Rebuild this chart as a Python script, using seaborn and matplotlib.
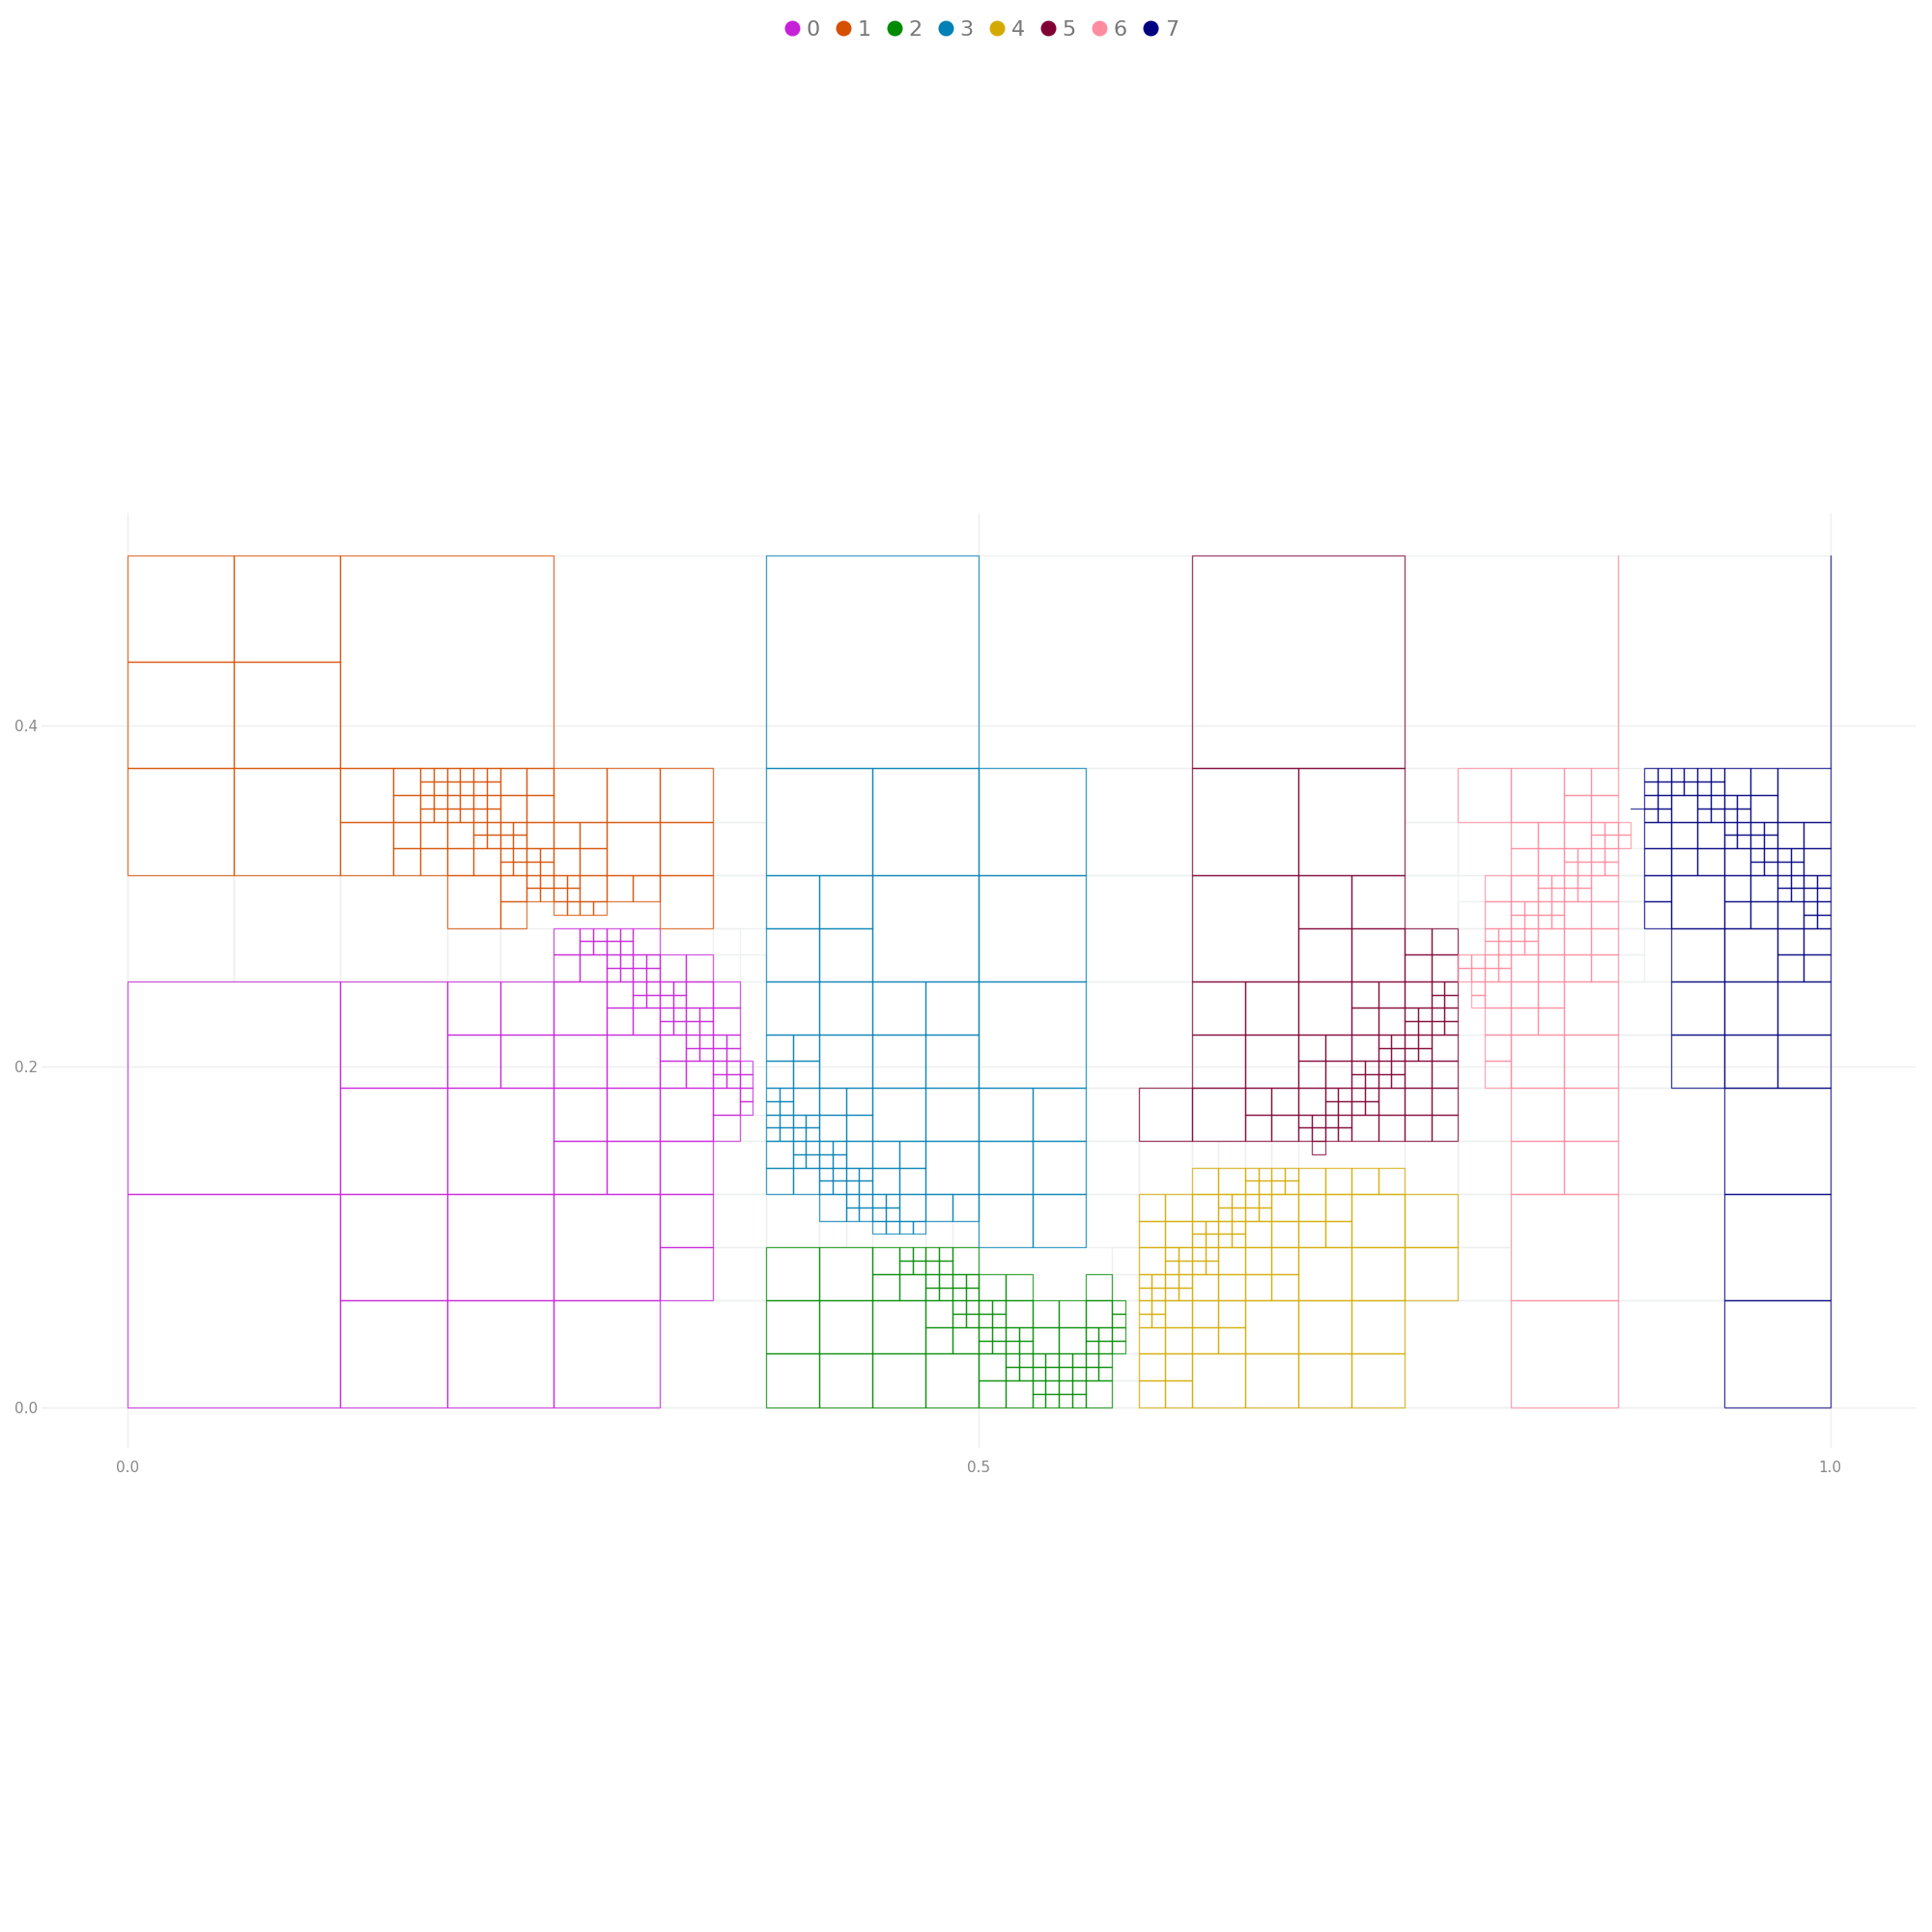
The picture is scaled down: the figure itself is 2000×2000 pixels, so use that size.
import pandas as pd
import seaborn as sns
import matplotlib.pyplot as plt
from matplotlib.patches import Rectangle
from matplotlib.lines import Line2D

# cells are squares (i, j, size) on a 1/128 grid
STEP = 1 / 128

labels = ["0", "1", "2", "3", "4", "5", "6", "7"]
colors = ["#c720d9", "#d64f00", "#008b00", "#0080b4",
          "#d4aa00", "#800033", "#ff8c9f", "#000080"]

cells_0 = [
    (0, 0, 16), (0, 16, 16),
    (16, 24, 8), (16, 16, 8), (24, 16, 8), (16, 8, 8), (24, 8, 8), (16, 0, 8), (24, 0, 8),
    (32, 0, 8), (32, 8, 8),
    (24, 28, 4), (28, 28, 4), (24, 24, 4), (28, 24, 4), (40, 12, 4), (40, 8, 4), (32, 16, 4),
    (36, 16, 4), (40, 16, 4), (32, 20, 4), (36, 20, 4), (40, 20, 4), (32, 24, 4), (36, 24, 4),
    (32, 28, 4),
    (44, 20, 2), (44, 22, 2), (40, 26, 2), (40, 24, 2), (42, 24, 2), (36, 30, 2), (36, 28, 2),
    (42, 30, 2), (44, 30, 2), (38, 28, 2), (44, 28, 2), (32, 32, 2), (34, 32, 2), (38, 34, 2),
    (40, 32, 2), (42, 32, 2), (32, 34, 2),
    (46, 22, 1), (46, 23, 1), (42, 27, 1), (43, 27, 1), (42, 26, 1), (43, 26, 1), (44, 27, 1),
    (45, 27, 1), (44, 26, 1), (45, 26, 1), (44, 25, 1), (45, 25, 1), (46, 25, 1), (44, 24, 1),
    (45, 24, 1), (46, 24, 1), (38, 31, 1), (39, 31, 1), (38, 30, 1), (39, 30, 1), (40, 31, 1),
    (41, 31, 1), (40, 30, 1), (41, 30, 1), (40, 29, 1), (41, 29, 1), (40, 28, 1), (41, 28, 1),
    (42, 29, 1), (43, 29, 1), (42, 28, 1), (43, 28, 1), (34, 35, 1), (35, 35, 1), (36, 35, 1),
    (37, 35, 1), (34, 34, 1), (35, 34, 1), (36, 34, 1), (37, 34, 1), (36, 33, 1), (37, 33, 1),
    (38, 33, 1), (39, 33, 1), (36, 32, 1), (37, 32, 1), (38, 32, 1), (39, 32, 1),
]

cells_1 = [
    (16, 48, 16),
    (0, 56, 8), (8, 56, 8), (0, 48, 8), (8, 48, 8), (0, 40, 8), (8, 40, 8),
    (16, 44, 4), (16, 40, 4), (24, 36, 4), (32, 44, 4), (36, 44, 4), (40, 44, 4), (36, 40, 4),
    (40, 40, 4), (40, 36, 4),
    (20, 46, 2), (20, 44, 2), (20, 42, 2), (20, 40, 2), (22, 42, 2), (22, 40, 2), (24, 42, 2),
    (24, 40, 2), (26, 40, 2), (28, 46, 2), (30, 46, 2), (28, 44, 2), (30, 44, 2), (30, 42, 2),
    (28, 38, 2), (28, 36, 2), (32, 42, 2), (34, 42, 2), (32, 40, 2), (34, 40, 2), (34, 38, 2),
    (36, 38, 2), (38, 38, 2),
    (22, 47, 1), (23, 47, 1), (24, 47, 1), (25, 47, 1), (26, 47, 1), (27, 47, 1),
    (22, 46, 1), (23, 46, 1), (24, 46, 1), (25, 46, 1), (26, 46, 1), (27, 46, 1),
    (22, 45, 1), (23, 45, 1), (24, 45, 1), (25, 45, 1), (26, 45, 1), (27, 45, 1),
    (22, 44, 1), (23, 44, 1), (24, 44, 1), (25, 44, 1), (26, 44, 1), (27, 44, 1),
    (26, 42, 1), (27, 42, 1), (26, 43, 1), (27, 43, 1), (28, 42, 1), (29, 42, 1), (28, 43, 1),
    (29, 43, 1), (28, 40, 1), (29, 40, 1), (28, 41, 1), (29, 41, 1), (30, 40, 1), (31, 40, 1),
    (30, 41, 1), (31, 41, 1), (30, 38, 1), (31, 38, 1), (30, 39, 1), (31, 39, 1), (32, 39, 1),
    (33, 39, 1), (32, 38, 1), (33, 38, 1), (32, 37, 1), (33, 37, 1), (34, 37, 1), (35, 37, 1),
]

cells_2 = [
    (48, 8, 4), (52, 8, 4), (48, 4, 4), (52, 4, 4), (56, 4, 4), (48, 0, 4), (52, 0, 4),
    (56, 0, 4), (60, 0, 4),
    (56, 10, 2), (56, 8, 2), (58, 8, 2), (62, 10, 2), (60, 6, 2), (60, 4, 2), (62, 4, 2),
    (64, 8, 2), (66, 8, 2), (66, 6, 2), (68, 6, 2), (68, 4, 2), (70, 6, 2), (70, 4, 2),
    (72, 8, 2), (72, 6, 2), (64, 2, 2), (64, 0, 2), (66, 0, 2), (72, 0, 2),
    (58, 11, 1), (59, 11, 1), (60, 11, 1), (61, 11, 1), (58, 10, 1), (59, 10, 1), (60, 10, 1),
    (61, 10, 1), (60, 9, 1), (61, 9, 1), (62, 9, 1), (63, 9, 1), (60, 8, 1), (61, 8, 1),
    (62, 8, 1), (63, 8, 1), (62, 7, 1), (63, 7, 1), (62, 6, 1), (63, 6, 1), (64, 7, 1),
    (65, 7, 1), (64, 6, 1), (65, 6, 1), (74, 7, 1), (74, 6, 1), (74, 5, 1), (74, 4, 1),
    (72, 5, 1), (73, 5, 1), (72, 4, 1), (73, 4, 1), (64, 5, 1), (65, 5, 1), (64, 4, 1),
    (65, 4, 1), (66, 5, 1), (67, 5, 1), (66, 4, 1), (67, 4, 1), (66, 3, 1), (67, 3, 1),
    (66, 2, 1), (67, 2, 1), (68, 3, 1), (69, 3, 1), (70, 3, 1), (71, 3, 1), (72, 3, 1),
    (73, 3, 1), (68, 2, 1), (69, 2, 1), (70, 2, 1), (71, 2, 1), (72, 2, 1), (73, 2, 1),
    (68, 1, 1), (69, 1, 1), (70, 1, 1), (71, 1, 1), (68, 0, 1), (69, 0, 1), (70, 0, 1),
    (71, 0, 1),
]

cells_3 = [
    (48, 48, 16),
    (48, 40, 8), (56, 40, 8), (56, 32, 8), (64, 40, 8), (64, 32, 8), (64, 24, 8),
    (48, 36, 4), (52, 36, 4), (48, 32, 4), (52, 32, 4), (48, 28, 4), (52, 28, 4), (56, 28, 4),
    (60, 28, 4), (52, 24, 4), (56, 24, 4), (60, 24, 4), (56, 20, 4), (60, 20, 4), (60, 16, 4),
    (64, 20, 4), (68, 20, 4), (64, 16, 4), (68, 16, 4), (64, 12, 4), (68, 12, 4),
    (48, 26, 2), (50, 26, 2), (48, 24, 2), (50, 24, 2), (50, 22, 2), (52, 22, 2), (54, 22, 2),
    (52, 20, 2), (54, 20, 2), (48, 18, 2), (48, 16, 2), (54, 18, 2), (50, 16, 2), (56, 18, 2),
    (58, 18, 2), (56, 16, 2), (58, 16, 2), (52, 14, 2), (58, 14, 2), (60, 14, 2), (62, 14, 2),
    (48, 23, 1), (49, 23, 1), (48, 22, 1), (49, 22, 1), (48, 21, 1), (49, 21, 1), (48, 20, 1),
    (49, 20, 1), (50, 21, 1), (51, 21, 1), (50, 20, 1), (51, 20, 1), (50, 19, 1), (51, 19, 1),
    (52, 19, 1), (53, 19, 1), (50, 18, 1), (51, 18, 1), (52, 18, 1), (53, 18, 1), (52, 17, 1),
    (53, 17, 1), (54, 17, 1), (55, 17, 1), (52, 16, 1), (53, 16, 1), (54, 16, 1), (55, 16, 1),
    (54, 15, 1), (55, 15, 1), (56, 15, 1), (57, 15, 1), (54, 14, 1), (55, 14, 1), (56, 14, 1),
    (57, 14, 1), (56, 13, 1), (57, 13, 1), (58, 13, 1), (59, 13, 1),
]

cells_4 = [
    (84, 4, 4), (88, 4, 4), (92, 4, 4), (80, 0, 4), (84, 0, 4), (88, 0, 4), (92, 0, 4),
    (92, 12, 4), (88, 8, 4), (92, 8, 4), (96, 12, 4), (96, 8, 4),
    (80, 16, 2), (82, 16, 2), (88, 16, 2), (90, 16, 2), (92, 16, 2), (94, 16, 2), (76, 14, 2),
    (78, 14, 2), (80, 14, 2), (86, 14, 2), (88, 14, 2), (90, 14, 2), (76, 12, 2), (78, 12, 2),
    (84, 12, 2), (86, 12, 2), (88, 12, 2), (90, 12, 2), (76, 10, 2), (82, 10, 2), (84, 10, 2),
    (86, 10, 2), (80, 8, 2), (82, 8, 2), (84, 8, 2), (86, 8, 2), (78, 6, 2), (80, 6, 2),
    (82, 6, 2), (76, 4, 2), (78, 4, 2), (80, 4, 2), (82, 4, 2), (76, 2, 2), (78, 2, 2),
    (76, 0, 2), (78, 0, 2),
    (84, 17, 1), (85, 17, 1), (86, 17, 1), (87, 17, 1), (84, 16, 1), (85, 16, 1), (86, 16, 1),
    (87, 16, 1), (82, 15, 1), (83, 15, 1), (84, 15, 1), (85, 15, 1), (82, 14, 1), (83, 14, 1),
    (84, 14, 1), (85, 14, 1), (80, 13, 1), (81, 13, 1), (82, 13, 1), (83, 13, 1), (80, 12, 1),
    (81, 12, 1), (82, 12, 1), (83, 12, 1), (78, 11, 1), (79, 11, 1), (80, 11, 1), (81, 11, 1),
    (78, 10, 1), (79, 10, 1), (80, 10, 1), (81, 10, 1), (76, 9, 1), (77, 9, 1), (78, 9, 1),
    (79, 9, 1), (76, 8, 1), (77, 8, 1), (78, 8, 1), (79, 8, 1), (76, 7, 1), (77, 7, 1),
    (76, 6, 1), (77, 6, 1),
]

cells_5 = [
    (80, 48, 16),
    (80, 40, 8), (88, 40, 8), (80, 32, 8),
    (88, 36, 4), (92, 36, 4), (88, 32, 4), (92, 32, 4), (80, 28, 4), (84, 28, 4), (88, 28, 4),
    (80, 24, 4), (84, 24, 4), (76, 20, 4), (80, 20, 4),
    (92, 30, 2), (94, 30, 2), (92, 28, 2), (94, 28, 2), (88, 26, 2), (90, 26, 2), (88, 24, 2),
    (90, 24, 2), (92, 26, 2), (84, 22, 2), (86, 22, 2), (84, 20, 2), (86, 20, 2), (88, 22, 2),
    (94, 22, 2), (92, 20, 2), (94, 20, 2), (96, 34, 2), (98, 34, 2), (96, 32, 2), (98, 32, 2),
    (96, 30, 2), (98, 26, 2), (96, 24, 2), (98, 24, 2), (96, 22, 2), (98, 22, 2), (96, 20, 2),
    (98, 20, 2),
    (94, 27, 1), (95, 27, 1), (94, 26, 1), (95, 26, 1), (92, 25, 1), (93, 25, 1), (92, 24, 1),
    (93, 24, 1), (94, 25, 1), (95, 25, 1), (94, 24, 1), (95, 24, 1), (90, 23, 1), (91, 23, 1),
    (90, 22, 1), (91, 22, 1), (92, 23, 1), (93, 23, 1), (92, 22, 1), (93, 22, 1), (88, 21, 1),
    (89, 21, 1), (90, 21, 1), (91, 21, 1), (88, 20, 1), (89, 20, 1), (90, 20, 1), (91, 20, 1),
    (89, 19, 1), (98, 31, 1), (99, 31, 1), (98, 30, 1), (99, 30, 1), (96, 29, 1), (97, 29, 1),
    (98, 29, 1), (99, 29, 1), (96, 28, 1), (97, 28, 1), (98, 28, 1), (99, 28, 1), (96, 27, 1),
    (97, 27, 1), (96, 26, 1), (97, 26, 1),
]

cells_6 = [
    (104, 8, 8), (104, 0, 8),
    (100, 44, 4), (104, 44, 4), (108, 28, 4), (104, 24, 4), (108, 24, 4), (104, 20, 4),
    (108, 20, 4), (104, 16, 4), (108, 16, 4),
    (108, 46, 2), (110, 46, 2), (108, 44, 2), (110, 44, 2), (104, 42, 2), (106, 42, 2),
    (108, 42, 2), (104, 40, 2), (106, 40, 2), (102, 38, 2), (102, 36, 2), (104, 38, 2),
    (110, 38, 2), (108, 36, 2), (110, 36, 2), (106, 34, 2), (108, 34, 2), (110, 34, 2),
    (106, 32, 2), (108, 32, 2), (110, 32, 2), (104, 32, 2), (102, 30, 2), (104, 30, 2),
    (106, 30, 2), (102, 28, 2), (104, 28, 2), (106, 28, 2), (102, 26, 2), (102, 24, 2),
    (110, 43, 1), (111, 43, 1), (112, 43, 1), (110, 42, 1), (111, 42, 1), (112, 42, 1),
    (108, 41, 1), (109, 41, 1), (110, 41, 1), (111, 41, 1), (108, 40, 1), (109, 40, 1),
    (110, 40, 1), (111, 40, 1), (106, 39, 1), (107, 39, 1), (108, 39, 1), (109, 39, 1),
    (106, 38, 1), (107, 38, 1), (108, 38, 1), (109, 38, 1), (104, 37, 1), (105, 37, 1),
    (106, 37, 1), (107, 37, 1), (104, 36, 1), (105, 36, 1), (106, 36, 1), (107, 36, 1),
    (102, 35, 1), (103, 35, 1), (104, 35, 1), (105, 35, 1), (102, 34, 1), (103, 34, 1),
    (104, 34, 1), (105, 34, 1), (100, 33, 1), (101, 33, 1), (102, 33, 1), (103, 33, 1),
    (100, 32, 1), (101, 32, 1), (102, 32, 1), (103, 32, 1), (101, 31, 1), (101, 30, 1),
]

cells_7 = [
    (120, 16, 8), (120, 8, 8), (120, 0, 8),
    (124, 44, 4), (116, 36, 4), (116, 32, 4), (120, 32, 4), (116, 28, 4), (120, 28, 4),
    (124, 28, 4), (116, 24, 4), (120, 24, 4), (124, 24, 4),
    (120, 46, 2), (122, 46, 2), (116, 44, 2), (122, 44, 2), (114, 42, 2), (116, 42, 2),
    (118, 42, 2), (124, 42, 2), (126, 42, 2), (114, 40, 2), (116, 40, 2), (118, 40, 2),
    (120, 40, 2), (126, 40, 2), (114, 38, 2), (114, 36, 2), (120, 38, 2), (122, 38, 2),
    (120, 36, 2), (122, 36, 2), (124, 36, 2), (124, 34, 2), (126, 34, 2), (124, 32, 2),
    (126, 32, 2),
    (114, 47, 1), (115, 47, 1), (116, 47, 1), (117, 47, 1), (118, 47, 1), (119, 47, 1),
    (114, 46, 1), (115, 46, 1), (116, 46, 1), (117, 46, 1), (118, 46, 1), (119, 46, 1),
    (114, 45, 1), (115, 45, 1), (114, 44, 1), (115, 44, 1), (118, 45, 1), (119, 45, 1),
    (120, 45, 1), (121, 45, 1), (118, 44, 1), (119, 44, 1), (120, 44, 1), (121, 44, 1),
    (120, 43, 1), (121, 43, 1), (122, 43, 1), (123, 43, 1), (120, 42, 1), (121, 42, 1),
    (122, 42, 1), (123, 42, 1), (122, 41, 1), (123, 41, 1), (124, 41, 1), (125, 41, 1),
    (122, 40, 1), (123, 40, 1), (124, 40, 1), (125, 40, 1), (124, 39, 1), (125, 39, 1),
    (124, 38, 1), (125, 38, 1), (126, 39, 1), (127, 39, 1), (126, 38, 1), (127, 38, 1),
    (126, 37, 1), (127, 37, 1), (126, 36, 1), (127, 36, 1),
]

# loose edges left of cells whose other sides are hidden: (group, i0, j0, i1, j1)
edges = [(6, 112, 48, 112, 64), (7, 128, 48, 128, 64), (7, 113, 45, 114, 45)]

# empty cells, drawn faint
empty_cells = [
    (32, 48, 16), (64, 48, 16), (96, 48, 16), (112, 48, 16),
    (0, 32, 8), (8, 32, 8), (16, 32, 8), (72, 40, 8), (72, 32, 8), (72, 24, 8),
    (96, 0, 8), (112, 0, 8), (112, 8, 8), (112, 16, 8), (40, 0, 8),
    (24, 32, 4), (28, 32, 4), (44, 44, 4), (44, 40, 4), (44, 36, 4), (96, 44, 4), (96, 40, 4),
    (100, 40, 4), (96, 36, 4), (112, 24, 4), (112, 28, 4), (100, 8, 4), (100, 12, 4),
    (96, 16, 4), (100, 16, 4), (100, 20, 4), (100, 24, 4), (76, 16, 4), (72, 16, 4),
    (72, 20, 4), (72, 12, 4), (44, 8, 4), (44, 12, 4), (44, 16, 4), (48, 12, 4),
    (46, 32, 2), (44, 34, 2), (100, 36, 2), (100, 34, 2), (112, 40, 2), (112, 38, 2),
    (112, 36, 2), (112, 34, 2), (112, 32, 2), (74, 0, 2), (74, 2, 2), (74, 8, 2), (74, 10, 2),
    (80, 18, 2), (82, 18, 2), (84, 18, 2), (86, 18, 2), (46, 20, 2), (52, 12, 2), (54, 12, 2),
    (60, 12, 2), (62, 12, 2),
]

all_cells = [cells_0, cells_1, cells_2, cells_3, cells_4, cells_5, cells_6, cells_7]
rows = []
for g, cells in enumerate(all_cells):
    for i, j, s in cells:
        rows.append((g, i * STEP, j * STEP, s * STEP))
df = pd.DataFrame(rows, columns=["group", "x", "y", "size"])

sns.set_theme(style="whitegrid", rc={"grid.color": "#eeeeee", "grid.linewidth": 1.0})
plt.rcParams["font.family"] = ["DejaVu Sans"]

fig = plt.figure(figsize=(20, 20), dpi=100)
ax = fig.add_axes([0.0215, 0.2505, 0.97, 0.484])
ax.set_xlim(-0.0505, 1.05)
ax.set_ylim(-0.0241, 0.525)
ax.set_axisbelow(True)

for i, j, s in empty_cells:
    ax.add_patch(Rectangle((i * STEP, j * STEP), s * STEP, s * STEP, fill=False,
                           edgecolor="#eef0f0", linewidth=1.0, zorder=1))

for _, r in df.iterrows():
    ax.add_patch(Rectangle((r["x"], r["y"]), r["size"], r["size"], fill=False,
                           edgecolor=colors[int(r["group"])], alpha=0.72,
                           linewidth=0.95, zorder=2))

for g, i0, j0, i1, j1 in edges:
    ax.plot([i0 * STEP, i1 * STEP], [j0 * STEP, j1 * STEP], color=colors[g],
            alpha=0.72, linewidth=0.95, zorder=2)

ax.set_xticks([0.0, 0.5, 1.0])
ax.set_xticklabels(["0.0", "0.5", "1.0"])
ax.set_yticks([0.0, 0.2, 0.4])
ax.set_yticklabels(["0.0", "0.2", "0.4"])
ax.tick_params(axis="both", colors="#888888", labelsize=11, length=0)
ax.tick_params(axis="x", pad=9)
ax.tick_params(axis="y", pad=3)
for sp in ax.spines.values():
    sp.set_visible(False)

handles = [Line2D([], [], marker="o", linestyle="", markersize=10.5, color=c) for c in colors]
fig.legend(handles, labels, loc="center", bbox_to_anchor=(0.508, 0.9847), ncol=8,
           frameon=False, fontsize=16, handlelength=0.7, handletextpad=0.3,
           columnspacing=0.75, labelcolor="#777777")

fig.savefig("out.png", dpi=100, facecolor="white")
